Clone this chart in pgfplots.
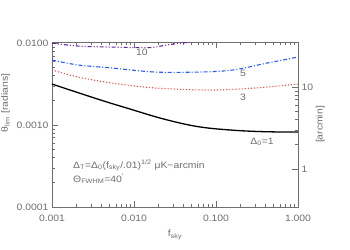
\documentclass[border=0pt]{standalone}
\usepackage{pgfplots}
\pgfplotsset{compat=1.18}
\usepackage{fontspec}
\setmainfont{Liberation Sans}
\newfontfamily\idlfamily[FakeStretch=1.12]{Liberation Sans}
\newcommand\idlfont{\idlfamily\fontsize{9.3}{11}\selectfont}
\definecolor{idlgray}{RGB}{110,110,110}
\definecolor{idlred}{RGB}{255,70,70}
\definecolor{idlblue}{RGB}{40,90,255}
\definecolor{idlpurple}{RGB}{105,35,160}
\begin{document}
\begin{tikzpicture}
\begin{axis}[
  at={(0,0)}, anchor=south west,
  scale only axis, width=246bp, height=165bp,
  xmode=log, ymode=log, xmin=0.001, xmax=1,
  ymin=0.0001, ymax=0.0103,
  axis line style={idlgray, line width=0.6pt},
  tick style={idlgray, line width=0.5pt}, tick align=inside,
  major tick length=6bp, minor tick length=3bp,
  ticklabel style={font=\idlfont, text=idlgray},
  label style={font=\idlfont, text=idlgray},
  xtick={0.001,0.01,0.1,1}, xticklabels={0.001,0.010,0.100,1.000},
  ytick={0.0001,0.001,0.01}, yticklabels={0.0001,0.0010,0.0100},
  ytick pos=left, xtick pos=both, xticklabel pos=left,
  xticklabel style={yshift=-5bp},
  xlabel={f\textsubscript{sky}},
  xlabel style={yshift=-1bp},
  /pgf/number format/assume math mode=true,
]
\addplot[black, line width=1.3pt, smooth, tension=0.6] coordinates {
(0.001,0.00316) (0.00385,0.00203) (0.0089,0.00157) (0.0226,0.00119) (0.0586,0.00096) (0.148,0.00087) (0.374,0.00083) (1,0.00082)};
\addplot[idlred, line width=1.1pt, dotted, smooth, tension=0.5] coordinates {
(0.001,0.00469) (0.00207,0.00385) (0.0054,0.00325) (0.018,0.00283) (0.0845,0.00267) (0.3,0.00283) (1,0.00316)};
\addplot[idlblue, line width=1.1pt, dash pattern=on 4pt off 2pt on 1pt off 2pt, smooth, tension=0.5] coordinates {
(0.001,0.00621) (0.00207,0.0054) (0.0054,0.00496) (0.018,0.00443) (0.0638,0.00443) (0.161,0.00469) (0.419,0.0057) (1,0.00675)};
\addplot[idlpurple, line width=1.1pt, dash pattern=on 4pt off 2pt on 1pt off 2pt on 1pt off 2pt, smooth, tension=0.5] coordinates {
(0.001,0.0100) (0.00207,0.00919) (0.0054,0.00893) (0.0157,0.0088) (0.0252,0.0095) (0.0482,0.0103) (0.1,0.0115)};
\end{axis}
\begin{axis}[
  at={(0,0)}, anchor=south west,
  scale only axis, width=246bp, height=165bp,
  xmode=log, ymode=log, xmin=0.001, xmax=1,
  ymin=0.343775, ymax=35.408,
  axis x line=none, axis y line*=right,
  axis line style={idlgray, line width=0.6pt},
  tick style={idlgray, line width=0.5pt}, tick align=inside,
  major tick length=6bp, minor tick length=3bp,
  ticklabel style={font=\idlfont, text=idlgray},
  ytick={1,10}, yticklabels={1,10},
  ylabel={[arcmin]},
  ylabel style={font=\idlfont, text=idlgray, yshift=4bp},
  /pgf/number format/assume math mode=true,
]
\addplot[draw=none] coordinates {(0.01,1) (0.1,10)};
\end{axis}
\begin{scope}[every node/.style={font=\idlfont, text=idlgray, inner sep=0pt}]
\node at (90bp,155bp) {10};
\node at (191bp,134bp) {5};
\node at (191bp,110bp) {3};
\node at (210bp,65bp) {Δ\textsubscript{0}=1};
\node[anchor=base west] at (21bp,39bp) {Δ\textsubscript{T}=Δ\textsubscript{0}(f\textsubscript{sky}/.01)\textsuperscript{1/2} μK−arcmin};
\node[anchor=base west] at (21bp,25bp) {Θ\textsubscript{FWHM}=40\textsuperscript{′}};
\node[rotate=90, anchor=base] at (-44bp,104bp) {θ\textsubscript{lim} [radians]};
\end{scope}
\pgfresetboundingbox
\path[use as bounding box] (-52bp,-43bp) rectangle (298bp,207bp);
\end{tikzpicture}
\end{document}
